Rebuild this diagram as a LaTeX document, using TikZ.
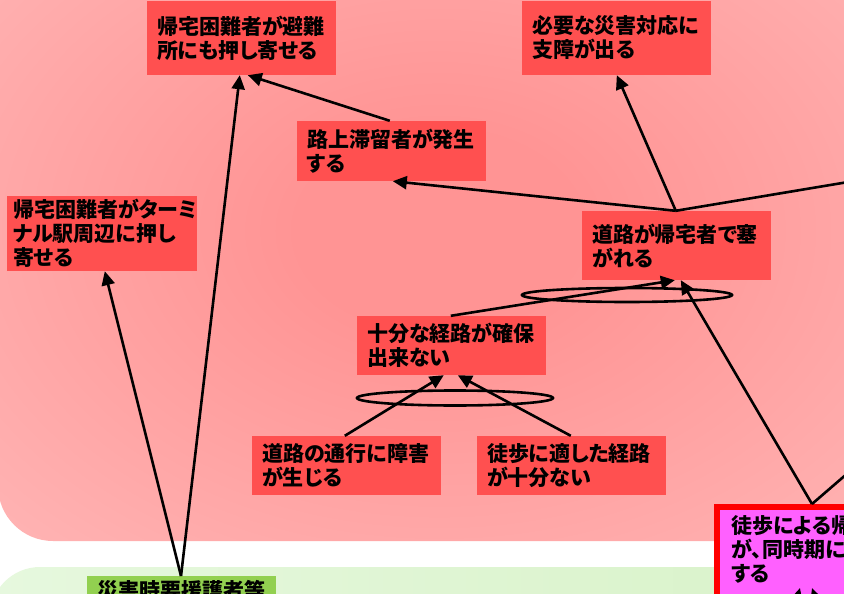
\documentclass[tikz,border=0pt]{standalone}
\usepackage{fontspec}
\setmainfont{Noto Sans CJK JP}[RawFeature=+palt]
\usetikzlibrary{arrows.meta,calc}
\definecolor{boxred}{HTML}{FF5050}
\definecolor{magbox}{HTML}{FF60FF}
\definecolor{gbox}{HTML}{92D050}
\definecolor{pkin}{HTML}{FF9494}
\definecolor{pkout}{HTML}{FFDCDC}
\definecolor{gleft}{HTML}{E6F8DE}
\definecolor{gright}{HTML}{D8F2C8}
\pgfdeclareradialshading{pinkglow}{\pgfpoint{0bp}{0bp}}{color(0bp)=(pkin); color(8bp)=(pkin); color(70bp)=(pkout); color(72bp)=(pkout)}
\begin{document}
\begin{tikzpicture}[x=1pt,y=-1pt,
  jp/.style={font=\fontsize{21}{24}\selectfont\bfseries},
  rbox/.style={jp, fill=boxred, inner xsep=10pt, inner ysep=0pt, align=left, text width=169pt},
  link/.style={line width=2.6pt, -{Triangle[length=14pt,width=13pt]}},
  andring/.style={line width=2.6pt}]
\useasboundingbox (0,0) rectangle (844,594);
% background regions
\shade[shading=pinkglow, rounded corners=55pt] (-2,-80) rectangle (880,541);
\shade[left color=gleft, right color=gright, rounded corners=50pt] (-10,567) rectangle (900,700);
% boxes
\node[rbox, minimum height=74pt] (n1) at (241.5,38) {帰宅困難者が避難\\所にも押し寄せる};
\node[rbox, minimum height=74pt] (n2) at (616.5,38) {必要な災害対応に\\支障が出る};
\node[rbox, minimum height=60pt] (n3) at (391.5,151) {路上滞留者が発生\\する};
\node[rbox, minimum height=75pt, inner xsep=6pt, text width=178pt] (n4) at (102,233.5) {帰宅困難者がターミ\\ナル駅周辺に押し\\寄せる};
\node[rbox, minimum height=69pt] (n5) at (676.5,245.5) {道路が帰宅者で塞\\がれる};
\node[rbox, minimum height=59pt] (n6) at (451.5,345.5) {十分な経路が確保\\出来ない};
\node[rbox, minimum height=59pt] (n7) at (346.5,465.5) {道路の通行に障害\\が生じる};
\node[rbox, minimum height=59pt] (n8) at (571.5,465.5) {徒歩に適した経路\\が十分ない};
\node[rbox, fill=gbox, anchor=north west, minimum height=28pt] (g) at (87,576) {災害時要援護者等};
\node[draw=red, line width=6pt, fill=magbox, minimum width=200pt, minimum height=100pt, anchor=north west, inner sep=0pt] (n9) at (714,504) {};
\node[jp, anchor=west, align=left, inner sep=0pt] (n9t) at (731,549) {徒歩による帰宅者\\が、同時期に集中\\する};
% AND rings
\draw[andring] (627,295) ellipse [x radius=105pt, y radius=7pt];
\draw[andring] (455,398) ellipse [x radius=98pt, y radius=7.5pt];
% connectors
\coordinate (gs) at ($(g.north west)+(94,0)$);
\draw[link] (gs) -- ($(n4.south west)+(98,0)$);
\draw[link] (gs) -- ($(n1.south west)+(93,0)$);
\draw[link] ($(n3.north west)+(93,0)$) -- ($(n1.south west)+(101,0)$);
\coordinate (j5) at ($(n5.north west)+(94,0)$);
\draw[link] (j5) -- ($(n3.south west)+(96,0)$);
\draw[link] (j5) -- ($(n2.south west)+(95,0)$);
\coordinate (offR) at (950,165);
\draw[link] (j5) -- (offR);
\draw[link] ($(n6.north west)+(94,0)$) -- ($(n5.south west)+(93,0)$);
\coordinate (j9) at ($(n9.north west)+(98,0)$);
\draw[link] (j9) -- ($(n5.south west)+(99,0)$);
\coordinate (offR2) at (900,428);
\draw[link] (j9) -- (offR2);
\draw[link] ($(n7.north west)+(93,0)$) -- ($(n6.south west)+(87,0)$);
\draw[link] ($(n8.north west)+(94,0)$) -- ($(n6.south west)+(101,0)$);
% arrows entering the bottom of the magenta box from below
\coordinate (b1) at (785,640);
\coordinate (b2) at (830,640);
\draw[link] (b1) -- ($(n9.north west)+(86,84)$);
\draw[link] (b2) -- ($(n9.north west)+(98,84)$);
\end{tikzpicture}
\end{document}
